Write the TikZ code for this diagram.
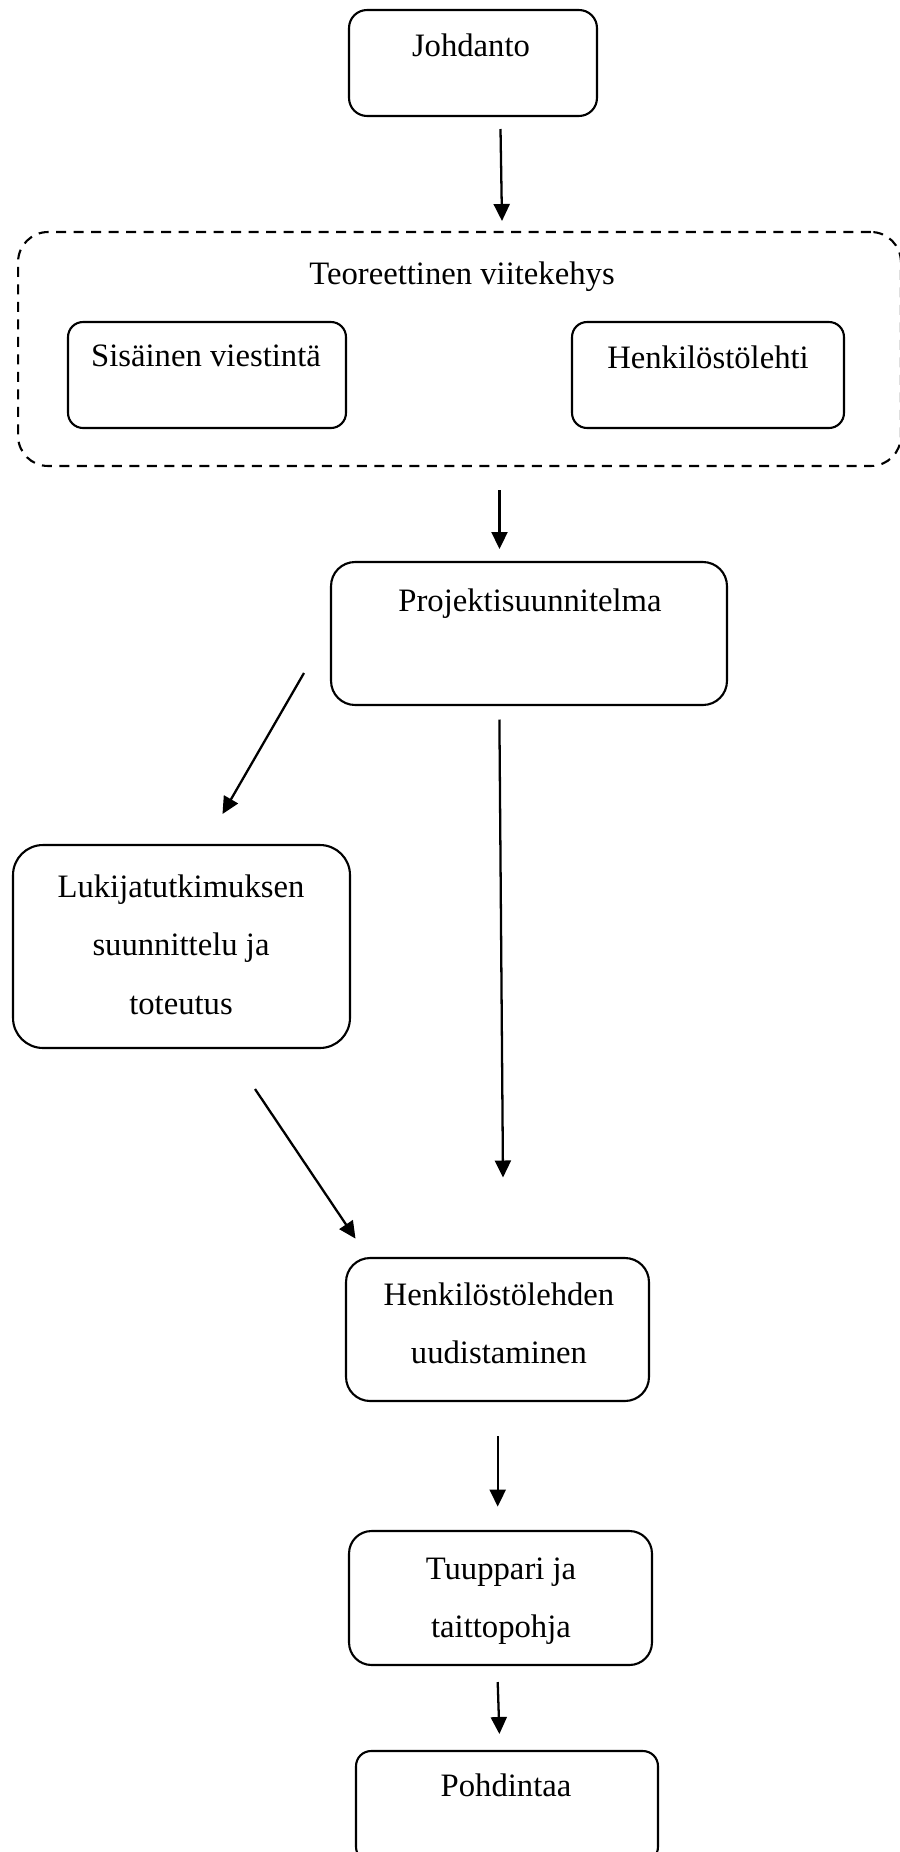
\documentclass[tikz,border=0pt]{standalone}
\usepackage{fontspec}
\setmainfont{Liberation Serif}
\usetikzlibrary{arrows.meta}

\begin{document}
\begin{tikzpicture}[x=0.02cm, y=-0.02cm,
  boxnode/.style={shape=rectangle, draw=black, line width=1.2pt, rounded corners=0.4cm },
  framenode/.style={shape=rectangle, draw=black, line width=1.2pt, rounded corners=0.6cm, dash pattern=on 0.2cm off 0.15cm },
  textnode/.style={anchor=north, inner sep=0pt, align=center, font=\fontsize{18.6}{33.3}\selectfont },
  arrowline/.style={line width=1.3pt, -{Triangle[length=0.34cm, width=0.32cm]} },
]
\useasboundingbox (0,0) rectangle (899,1852);

%%%boxes
\node[boxnode, rounded corners=0.36cm, minimum width=4.96cm, minimum height=2.12cm] (johdanto) at (473,63) {};
\node[framenode, minimum width=17.66cm, minimum height=4.68cm] (teoria) at (459.5,349) {};
\node[boxnode, rounded corners=0.3cm, minimum width=5.56cm, minimum height=2.12cm] (sisainen) at (207,375) {};
\node[boxnode, rounded corners=0.3cm, minimum width=5.44cm, minimum height=2.12cm] (lehti) at (708,375) {};
\node[boxnode, rounded corners=0.48cm, minimum width=7.92cm, minimum height=2.86cm] (projekti) at (529,633.5) {};
\node[boxnode, rounded corners=0.6cm, minimum width=6.74cm, minimum height=4.06cm] (lukija) at (181.5,946.5) {};
\node[boxnode, rounded corners=0.48cm, minimum width=6.06cm, minimum height=2.86cm] (uudistus) at (497.5,1329.5) {};
\node[boxnode, rounded corners=0.45cm, minimum width=6.06cm, minimum height=2.68cm] (tuuppari) at (500.5,1598) {};
\node[boxnode, rounded corners=0.3cm, minimum width=6.04cm, minimum height=2.22cm] (pohdinta) at (507,1806.5) {};

%%%texts
\node[textnode] (johdantoText) at (471,33) {Johdanto};
\node[textnode] (teoriaText) at (462,261) {Teoreettinen viitekehys};
\node[textnode] (sisainenText) at (206,345) {Sisäinen viestintä};
\node[textnode] (lehtiText) at (708,345) {Henkilöstölehti};
\node[textnode] (projektiText) at (530,588) {Projektisuunnitelma};
\node[textnode] (lukijaText) at (181,874) {Lukijatutkimuksen\\suunnittelu ja\\toteutus};
\node[textnode] (uudistusText) at (499,1282) {Henkilöstölehden\\uudistaminen};
\node[textnode] (tuuppariText) at (501,1557) {Tuuppari ja\\taittopohja};
\node[textnode] (pohdintaText) at (506,1773) {Pohdintaa};

%%%arrows
\coordinate (a1s) at (500.5,129);  \coordinate (a1e) at (502,221);
\coordinate (a2s) at (499.5,490);  \coordinate (a2e) at (499.5,549);
\coordinate (a3s) at (304,673);    \coordinate (a3e) at (222.5,814);
\coordinate (a4s) at (499.4,719.5);\coordinate (a4e) at (503,1177.5);
\coordinate (a5s) at (255,1089);   \coordinate (a5e) at (355.5,1238.6);
\coordinate (a6s) at (497.7,1436); \coordinate (a6e) at (497.7,1506.6);
\coordinate (a7s) at (497.7,1682); \coordinate (a7e) at (499.4,1734);
\foreach \n in {1,...,7} { \draw[arrowline] (a\n s) -- (a\n e); }
%%%%%%%%%

\end{tikzpicture}
\end{document}
